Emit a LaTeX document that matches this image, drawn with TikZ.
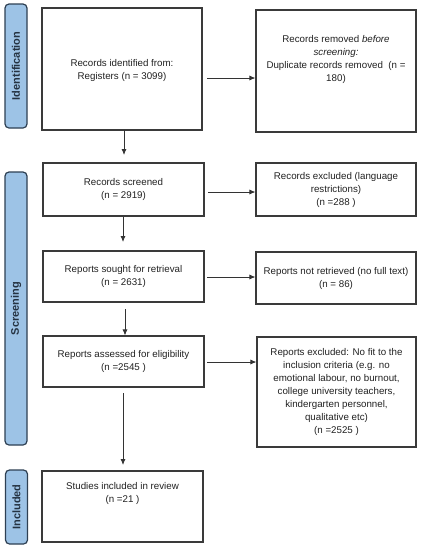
\documentclass[tikz,border=0pt]{standalone}
\usepackage{fontspec}
\setmainfont{Liberation Sans}
\usetikzlibrary{arrows.meta,calc}
\definecolor{sidefill}{HTML}{9DC3E6}
\definecolor{sidedraw}{HTML}{2E4053}
\definecolor{boxdraw}{HTML}{3A3A3A}
\definecolor{txtcol}{HTML}{222222}
\begin{document}
\begin{tikzpicture}[x=1pt,y=-1pt,
  box/.style={draw=boxdraw, line width=1.1pt, fill=white, inner sep=0pt},
  txt/.style={align=center, font=\fontsize{9.75}{13}\selectfont, text=txtcol, inner sep=0pt},
  side/.style={draw=sidedraw, fill=sidefill, line width=1.2pt, rounded corners=4pt, minimum width=22pt, inner sep=0pt},
  sidetxt/.style={rotate=90, font=\fontsize{11}{13}\selectfont\bfseries, text=sidedraw!80!black, inner sep=0pt},
  arr/.style={draw=black!80, line width=0.8pt, -{Latex[length=6pt,width=5pt]}}]
\fill[white] (0,0) rectangle (421,550);
\useasboundingbox (0,0) rectangle (421,550);

% side bars
\node[side, minimum height=124pt] (sideid) at (16,66) {};
\node[sidetxt] (sideidt) at (sideid.center) {Identification};
\node[side, minimum height=273pt] (sidesc) at (16,308.5) {};
\node[sidetxt] (sidesct) at (sidesc.center) {Screening};
\node[side, minimum height=74pt] (sidein) at (16.5,507) {};
\node[sidetxt] (sideint) at (sidein.center) {Included};

% boxes
\node[box, minimum width=160pt, minimum height=122pt] (ident) at (122,69) {};
\node[txt] (identt) at (122,70) {Records identified from:\\Registers (n = 3099)};
\node[box, minimum width=160pt, minimum height=122pt] (removed) at (336,71) {};
\node[txt] (removedt) at (336,59) {Records removed \textit{before}\\\textit{screening:}\\Duplicate records removed\ \ (n =\\180)};

\node[box, txt, minimum width=161pt, minimum height=53pt] (screened) at (123.5,189.5) {Records screened\\(n = 2919)};
\node[box, txt, minimum width=160pt, minimum height=53pt] (excl1) at (336,189.5) {Records excluded (language\\restrictions)\\(n =288 )};

\node[box, txt, minimum width=161pt, minimum height=51pt] (sought) at (123.5,276.5) {Reports sought for retrieval\\(n = 2631)};
\node[box, txt, minimum width=160pt, minimum height=52pt] (notret) at (336,278) {Reports not retrieved (no full text)\\(n = 86)};

\node[box, txt, minimum width=161pt, minimum height=51pt] (assessed) at (123.5,361.5) {Reports assessed for eligibility\\(n =2545 )};
\node[box, txt, minimum width=159pt, minimum height=110pt] (excl2) at (336.5,392) {Reports excluded: No fit to the\\inclusion criteria (e.g. no\\emotional labour, no burnout,\\college university teachers,\\kindergarten personnel,\\qualitative etc)\\(n =2525 )};

\node[box, minimum width=161pt, minimum height=71pt] (studies) at (122.5,506.5) {};
\node[txt] (studiest) at (122.5,493) {Studies included in review\\(n =21 )};

% horizontal arrows
\coordinate (h1) at (207,78);
\draw[arr] (h1) -- (removed.west |- h1);
\coordinate (h2) at (208,192);
\draw[arr] (h2) -- (excl1.west |- h2);
\coordinate (h3) at (207,277);
\draw[arr] (h3) -- (notret.west |- h3);
\coordinate (h4) at (207,362);
\draw[arr] (h4) -- (excl2.west |- h4);

% vertical arrows
\coordinate (v1s) at (124,130);
\coordinate (v1e) at (124,155);
\draw[arr] (v1s) -- (v1e);
\coordinate (v2s) at (123,217);
\coordinate (v2e) at (123,242);
\draw[arr] (v2s) -- (v2e);
\coordinate (v3s) at (125,309);
\draw[arr] (v3s) -- (v3s |- assessed.north);
\coordinate (v4s) at (123,393);
\coordinate (v4e) at (123,465);
\draw[arr] (v4s) -- (v4e);
\end{tikzpicture}
\end{document}
